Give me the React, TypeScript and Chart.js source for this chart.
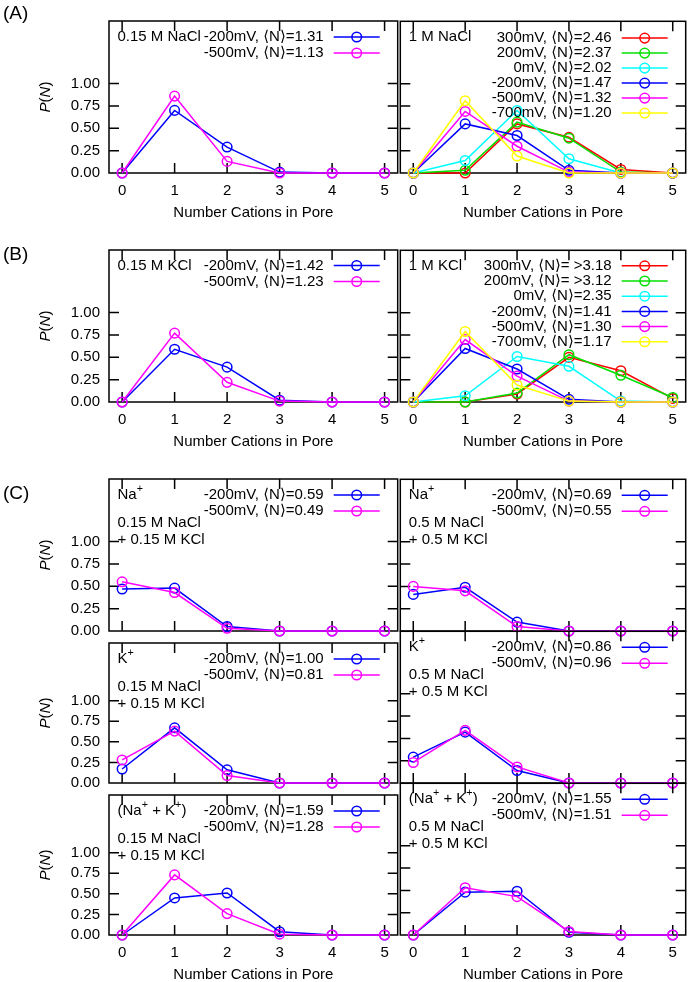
import React, { useEffect, useRef } from 'react';
import { Chart, registerables } from 'chart.js';

Chart.register(...registerables);

const FONT = '"Liberation Sans", Arial, Helvetica, "DejaVu Sans", sans-serif';
const N_VALUES = [0, 1, 2, 3, 4, 5];
const Y_TICKS = [0, 0.25, 0.5, 0.75, 1.0];
const X_TITLE = 'Number Cations in Pore';

const RED = '#ff0000';
const GREEN = '#00e000';
const CYAN = '#00ffff';
const BLUE = '#0000ff';
const MAGENTA = '#ff00ff';
const YELLOW = '#ffff00';

// (A) left: 0.15 M NaCl
const A1_LABELS = ['-200mV, ⟨N⟩=1.31', '-500mV, ⟨N⟩=1.13'];
const A1_M200 = [0, 0.70, 0.29, 0.01, 0, 0];
const A1_M500 = [0, 0.86, 0.13, 0.00, 0, 0];

// (A) right: 1 M NaCl
const A2_LABELS = ['300mV, ⟨N⟩=2.46', '200mV, ⟨N⟩=2.37', '0mV, ⟨N⟩=2.02', '-200mV, ⟨N⟩=1.47', '-500mV, ⟨N⟩=1.32', '-700mV, ⟨N⟩=1.20'];
const A2_P300 = [0, 0.00, 0.55, 0.40, 0.04, 0];
const A2_P200 = [0, 0.03, 0.57, 0.39, 0.01, 0];
const A2_P0 = [0, 0.14, 0.70, 0.16, 0, 0];
const A2_M200 = [0, 0.55, 0.42, 0.03, 0, 0];
const A2_M500 = [0, 0.69, 0.30, 0.01, 0, 0];
const A2_M700 = [0, 0.81, 0.19, 0, 0, 0];

// (B) left: 0.15 M KCl
const B1_LABELS = ['-200mV, ⟨N⟩=1.42', '-500mV, ⟨N⟩=1.23'];
const B1_M200 = [0, 0.59, 0.39, 0.02, 0, 0];
const B1_M500 = [0, 0.77, 0.22, 0.01, 0, 0];

// (B) right: 1 M KCl
const B2_LABELS = ['300mV, ⟨N⟩= >3.18', '200mV, ⟨N⟩= >3.12', '0mV, ⟨N⟩=2.35', '-200mV, ⟨N⟩=1.41', '-500mV, ⟨N⟩=1.30', '-700mV, ⟨N⟩=1.17'];
const B2_P300 = [0, 0, 0.09, 0.50, 0.35, 0.04];
const B2_P200 = [0, 0, 0.10, 0.53, 0.30, 0.05];
const B2_P0 = [0, 0.07, 0.51, 0.40, 0.01, 0];
const B2_M200 = [0, 0.60, 0.37, 0.03, 0, 0];
const B2_M500 = [0, 0.70, 0.29, 0.01, 0, 0];
const B2_M700 = [0, 0.79, 0.19, 0.01, 0, 0];

// (C) Na+
const C1L_LABELS = ['-200mV, ⟨N⟩=0.59', '-500mV, ⟨N⟩=0.49'];
const C1L_M200 = [0.47, 0.48, 0.05, 0, 0, 0];
const C1L_M500 = [0.55, 0.43, 0.03, 0, 0, 0];
const C1R_LABELS = ['-200mV, ⟨N⟩=0.69', '-500mV, ⟨N⟩=0.55'];
const C1R_M200 = [0.41, 0.49, 0.10, 0, 0, 0];
const C1R_M500 = [0.50, 0.45, 0.05, 0, 0, 0];

// (C) K+
const C2L_LABELS = ['-200mV, ⟨N⟩=1.00', '-500mV, ⟨N⟩=0.81'];
const C2L_M200 = [0.17, 0.67, 0.16, 0, 0, 0];
const C2L_M500 = [0.28, 0.63, 0.09, 0, 0, 0];
const C2R_LABELS = ['-200mV, ⟨N⟩=0.86', '-500mV, ⟨N⟩=0.96'];
const C2R_M200 = [0.29, 0.57, 0.14, 0, 0, 0];
const C2R_M500 = [0.23, 0.59, 0.18, 0, 0, 0];

// (C) Na+ + K+
const C3L_LABELS = ['-200mV, ⟨N⟩=1.59', '-500mV, ⟨N⟩=1.28'];
const C3L_M200 = [0, 0.45, 0.51, 0.04, 0, 0];
const C3L_M500 = [0, 0.73, 0.26, 0.01, 0, 0];
const C3R_LABELS = ['-200mV, ⟨N⟩=1.55', '-500mV, ⟨N⟩=1.51'];
const C3R_M200 = [0, 0.48, 0.49, 0.03, 0, 0];
const C3R_M500 = [0, 0.53, 0.43, 0.04, 0, 0];

const NOTE_015 = ['0.15 M NaCl', '+ 0.15 M KCl'];
const NOTE_05 = ['0.5 M NaCl', '+ 0.5 M KCl'];

type Series = { label: string; color: string; values: number[] };
type PanelDef = {
  x0: number; x1: number; y0: number; y1: number;
  pad: { l: number; t: number; r: number; b: number };
  yLabels: boolean; xLabels: boolean;
  series: Series[];
  notes: { text: string; dy: number }[];
  legendTop: number; legendStep: number;
  letter?: { text: string; x: number; y: number };
};

const two = (labels: string[], a: number[], b: number[]): Series[] => [
  { label: labels[0], color: BLUE, values: a },
  { label: labels[1], color: MAGENTA, values: b },
];
const six = (labels: string[], v: number[][]): Series[] =>
  [RED, GREEN, CYAN, BLUE, MAGENTA, YELLOW].map((c, i) => ({ label: labels[i], color: c, values: v[i] }));

const XL = [109, 398];
const XR = [398, 688];
const PL = (t: number, b: number) => ({ l: 109, t, r: 6, b });
const PR = (t: number, b: number) => ({ l: 4, t, r: 4, b });
const cNotes = (head: string, n: string[]) => [
  { text: head, dy: 16 }, { text: n[0], dy: 44 }, { text: n[1], dy: 61 },
];
const BOT = 49;
const MID = 22;

const PANELS: PanelDef[] = [
  { x0: XL[0], x1: XL[1], y0: 21, y1: 173, pad: PL(21, BOT), yLabels: true, xLabels: true,
    series: two(A1_LABELS, A1_M200, A1_M500), notes: [{ text: '0.15 M NaCl', dy: 16 }],
    legendTop: 16, legendStep: 16, letter: { text: '(A)', x: 3, y: 18.5 } },
  { x0: XR[0], x1: XR[1], y0: 21, y1: 173, pad: PR(6, BOT), yLabels: false, xLabels: true,
    series: six(A2_LABELS, [A2_P300, A2_P200, A2_P0, A2_M200, A2_M500, A2_M700]), notes: [{ text: '1 M NaCl', dy: 16 }],
    legendTop: 16.8, legendStep: 15 },
  { x0: XL[0], x1: XL[1], y0: 250, y1: 402, pad: PL(30, BOT), yLabels: true, xLabels: true,
    series: two(B1_LABELS, B1_M200, B1_M500), notes: [{ text: '0.15 M KCl', dy: 15.5 }],
    legendTop: 15.5, legendStep: 16, letter: { text: '(B)', x: 3, y: 259.5 } },
  { x0: XR[0], x1: XR[1], y0: 250, y1: 402, pad: PR(6, BOT), yLabels: false, xLabels: true,
    series: six(B2_LABELS, [B2_P300, B2_P200, B2_P0, B2_M200, B2_M500, B2_M700]), notes: [{ text: '1 M KCl', dy: 15.5 }],
    legendTop: 15.5, legendStep: 15.2 },
  { x0: XL[0], x1: XL[1], y0: 479, y1: 631, pad: PL(25, MID), yLabels: true, xLabels: false,
    series: two(C1L_LABELS, C1L_M200, C1L_M500), notes: cNotes('Na^{+}', NOTE_015),
    legendTop: 16, legendStep: 16, letter: { text: '(C)', x: 3, y: 498.5 } },
  { x0: XR[0], x1: XR[1], y0: 479, y1: 631, pad: PR(6, MID), yLabels: false, xLabels: false,
    series: two(C1R_LABELS, C1R_M200, C1R_M500), notes: cNotes('Na^{+}', NOTE_05),
    legendTop: 16, legendStep: 16 },
  { x0: XL[0], x1: XL[1], y0: 631, y1: 783, pad: PL(6, MID), yLabels: true, xLabels: false,
    series: two(C2L_LABELS, C2L_M200, C2L_M500), notes: cNotes('K^{+}', NOTE_015),
    legendTop: 16, legendStep: 16 },
  { x0: XR[0], x1: XR[1], y0: 631, y1: 783, pad: PR(6, MID), yLabels: false, xLabels: false,
    series: two(C2R_LABELS, C2R_M200, C2R_M500), notes: cNotes('K^{+}', NOTE_05),
    legendTop: 16, legendStep: 16 },
  { x0: XL[0], x1: XL[1], y0: 783, y1: 935, pad: PL(6, BOT), yLabels: true, xLabels: true,
    series: two(C3L_LABELS, C3L_M200, C3L_M500), notes: cNotes('(Na^{+} + K^{+})', NOTE_015),
    legendTop: 16, legendStep: 16 },
  { x0: XR[0], x1: XR[1], y0: 783, y1: 935, pad: PR(6, BOT), yLabels: false, xLabels: true,
    series: two(C3R_LABELS, C3R_M200, C3R_M500), notes: cNotes('(Na^{+} + K^{+})', NOTE_05),
    legendTop: 16, legendStep: 16 },
];

const TICK = 10;
const FS = 15;

function drawRich(ctx: CanvasRenderingContext2D, text: string, x: number, y: number) {
  const parts = text.split(/(\^\{[^}]*\})/);
  let cx = x;
  ctx.textAlign = 'left';
  for (const part of parts) {
    if (!part) continue;
    const m = part.match(/^\^\{([^}]*)\}$/);
    if (m) {
      ctx.font = `${FS * 0.72}px ${FONT}`;
      ctx.fillText(m[1], cx, y - FS * 0.4);
      cx += ctx.measureText(m[1]).width;
    } else {
      ctx.font = `${FS}px ${FONT}`;
      ctx.fillText(part, cx, y);
      cx += ctx.measureText(part).width;
    }
  }
}

function makeDeco(p: PanelDef) {
  const canvasLeft = p.x0 - p.pad.l;
  const canvasTop = p.y0 - p.pad.t;
  return {
    id: 'deco',
    beforeDatasetsDraw(chart: any) {
      const { ctx, chartArea: a, scales } = chart;
      const xs = scales.x, ys = scales.y;
      ctx.save();
      ctx.strokeStyle = '#000';
      ctx.lineWidth = 1.5;
      ctx.strokeRect(a.left, a.top, a.right - a.left, a.bottom - a.top);
      ctx.beginPath();
      for (const v of N_VALUES) {
        const px = xs.getPixelForValue(v);
        ctx.moveTo(px, a.bottom); ctx.lineTo(px, a.bottom - TICK);
        ctx.moveTo(px, a.top); ctx.lineTo(px, a.top + TICK);
      }
      for (const v of Y_TICKS) {
        if (v === 0) continue;
        const py = ys.getPixelForValue(v);
        ctx.moveTo(a.left, py); ctx.lineTo(a.left + TICK, py);
        ctx.moveTo(a.right, py); ctx.lineTo(a.right - TICK, py);
      }
      ctx.stroke();
      ctx.restore();
    },
    afterDraw(chart: any) {
      const { ctx, chartArea: a } = chart;
      ctx.save();
      ctx.fillStyle = '#000';
      ctx.textBaseline = 'middle';
      chart.data.datasets.forEach((ds: any, i: number) => {
        const yy = a.top + p.legendTop + i * p.legendStep;
        ctx.font = `${FS}px ${FONT}`;
        ctx.textAlign = 'right';
        ctx.fillStyle = '#000';
        ctx.fillText(ds.label, a.right - 74, yy);
        ctx.strokeStyle = ds.borderColor;
        ctx.lineWidth = 1.5;
        ctx.beginPath(); ctx.moveTo(a.right - 64, yy); ctx.lineTo(a.right - 18, yy); ctx.stroke();
        ctx.beginPath(); ctx.arc(a.right - 41, yy, 4.8, 0, Math.PI * 2); ctx.stroke();
      });
      ctx.fillStyle = '#000';
      for (const n of p.notes) drawRich(ctx, n.text, a.left + 8.5, a.top + n.dy);
      if (p.yLabels) {
        const segs: [string, boolean][] = [['P', true], ['(', false], ['N', true], [')', false]];
        const fontOf = (it: boolean) => `${it ? 'italic ' : ''}${FS}px ${FONT}`;
        let total = 0;
        for (const [t, it] of segs) { ctx.font = fontOf(it); total += ctx.measureText(t).width; }
        ctx.translate(46 - canvasLeft, (a.top + a.bottom) / 2);
        ctx.rotate(-Math.PI / 2);
        ctx.textAlign = 'left';
        let cx = -total / 2;
        for (const [t, it] of segs) { ctx.font = fontOf(it); ctx.fillText(t, cx, 0); cx += ctx.measureText(t).width; }
        ctx.setTransform(1, 0, 0, 1, 0, 0);
      }
      if (p.letter) {
        ctx.font = `19px ${FONT}`;
        ctx.textAlign = 'left';
        ctx.textBaseline = 'alphabetic';
        ctx.fillText(p.letter.text, p.letter.x - canvasLeft, p.letter.y - canvasTop);
      }
      ctx.restore();
    },
  };
}

function Panel({ p }: { p: PanelDef }) {
  const ref = useRef<HTMLCanvasElement | null>(null);
  const w = p.pad.l + (p.x1 - p.x0) + p.pad.r;
  const h = p.pad.t + (p.y1 - p.y0) + p.pad.b;
  useEffect(() => {
    if (!ref.current) return;
    const n = p.series.length;
    const chart = new Chart(ref.current, {
      type: 'line',
      data: {
        datasets: p.series.map((s, i) => ({
          label: s.label,
          data: N_VALUES.map((x, j) => ({ x, y: s.values[j] })),
          borderColor: s.color,
          backgroundColor: 'rgba(0,0,0,0)',
          pointBorderColor: s.color,
          pointBackgroundColor: 'rgba(0,0,0,0)',
          borderWidth: 1.5,
          pointRadius: 4.8,
          pointHoverRadius: 4.8,
          pointBorderWidth: 1.5,
          tension: 0,
          fill: false,
          clip: false,
          order: n - i,
        })),
      },
      options: {
        responsive: false,
        animation: false,
        devicePixelRatio: 1,
        events: [],
        layout: { padding: { left: 0, top: p.pad.t, right: p.pad.r, bottom: 0 } },
        plugins: { legend: { display: false }, tooltip: { enabled: false } },
        scales: {
          x: {
            type: 'linear',
            min: -0.25,
            max: 5.25,
            afterBuildTicks: (s: any) => { s.ticks = N_VALUES.map((v) => ({ value: v })); },
            afterFit: (s: any) => { s.height = p.pad.b; },
            grid: { display: false, drawTicks: false },
            border: { display: false },
            ticks: {
              display: p.xLabels, autoSkip: false, maxRotation: 0, padding: 9, color: '#000',
              font: { family: FONT, size: FS }, callback: (v: any) => String(v),
            },
            title: { display: p.xLabels, text: X_TITLE, color: '#000', font: { family: FONT, size: FS }, padding: 0 },
          },
          y: {
            type: 'linear',
            min: 0,
            max: 1.7,
            afterBuildTicks: (s: any) => { s.ticks = Y_TICKS.map((v) => ({ value: v })); },
            afterFit: (s: any) => { s.width = p.pad.l; },
            grid: { display: false, drawTicks: false },
            border: { display: false },
            ticks: {
              display: p.yLabels, autoSkip: false, padding: 9, color: '#000',
              font: { family: FONT, size: FS }, callback: (v: any) => Number(v).toFixed(2),
            },
          },
        },
      },
      plugins: [makeDeco(p)],
    } as any);
    return () => chart.destroy();
  }, []);
  return (
    <canvas
      ref={ref}
      width={w}
      height={h}
      style={{ position: 'absolute', left: p.x0 - p.pad.l, top: p.y0 - p.pad.t, width: w, height: h }}
    />
  );
}

export default function App() {
  return (
    <div style={{ position: 'absolute', left: 0, top: 0, width: 692, height: 982, background: '#fff', overflow: 'hidden' }}>
      {PANELS.map((p, i) => <Panel key={i} p={p} />)}
    </div>
  );
}
